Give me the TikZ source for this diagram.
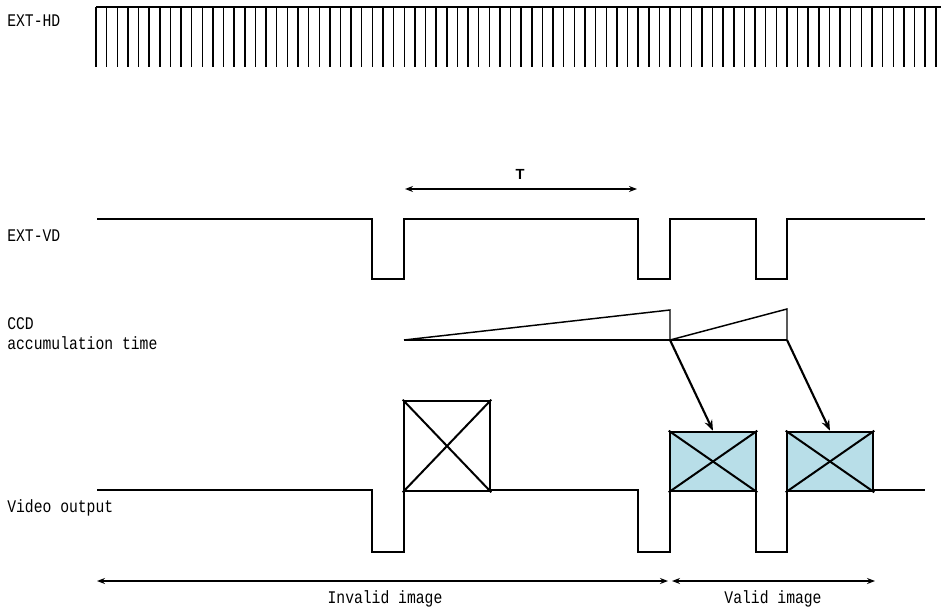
\documentclass[tikz,border=0pt]{standalone}
\usepackage{fontspec}
\newfontfamily\sigfont{Liberation Mono}[FakeStretch=0.83]
\newfontfamily\markfont{Liberation Sans}
\usetikzlibrary{arrows.meta}
\definecolor{framefill}{RGB}{184,222,232}
\tikzset{
  signal/.style={line width=1.1pt},
  siglabel/.style={anchor=base west,inner sep=0pt,font=\sigfont\fontsize{13.3}{16}\selectfont},
  spanlabel/.style={anchor=base,inner sep=0pt,font=\sigfont\fontsize{13.3}{16}\selectfont},
  framebox/.style={draw,line width=1.9pt,inner sep=0pt,minimum width=64.5pt},
  span/.style={line width=1pt,{Stealth[length=6pt,width=4.5pt]}-{Stealth[length=6pt,width=4.5pt]}},
  feed/.style={line width=1.6pt,-{Stealth[length=8pt,width=6pt]}}
}
\begin{document}
\begin{tikzpicture}[x=0.75pt,y=-0.75pt]
  \useasboundingbox (0,0) rectangle (941,606);
  % labels
  \node[siglabel] (hdlabel) at (7,27) {EXT-HD};
  \node[siglabel] (vdlabel) at (7,241) {EXT-VD};
  \node[siglabel] (ccdlabel) at (7,329) {CCD};
  \node[siglabel] (acclabel) at (7,349) {accumulation time};
  \node[siglabel] (vidlabel) at (7,512) {Video output};
  % EXT-HD
  \draw[signal] (96,7) -- (941,7);
  \foreach \k in {0,...,79}
    \draw[signal] ({96+\k*10.63},7) -- ({96+\k*10.63},67);
  % EXT-VD
  \draw[signal] (97,219) -- (372,219) -- (372,279) -- (404,279) -- (404,219)
    -- (638,219) -- (638,279) -- (670,279) -- (670,219)
    -- (756,219) -- (756,279) -- (787,279) -- (787,219) -- (925,219);
  % period T
  \coordinate (tL) at (405,189);
  \coordinate (tR) at (637,189);
  \draw[span] (tL) -- (tR);
  \node[inner sep=0pt,font=\markfont\bfseries\fontsize{11}{13}\selectfont] (tlabel) at (520,174) {T};
  % CCD accumulation
  \coordinate (rampA) at (670,340);
  \coordinate (rampB) at (787,340);
  \draw[signal] (404,340) -- (rampB);
  \draw[signal] (404,340) -- (670,310) -- (rampA);
  \draw[signal] (rampA) -- (787,309) -- (rampB);
  % video output
  \draw[signal] (97,490) -- (372,490) -- (372,552) -- (404,552) -- (404,490)
    -- (638,490) -- (638,552) -- (670,552) -- (670,490)
    -- (756,490) -- (756,552) -- (787,552) -- (787,490) -- (925,490);
  \node[framebox,fill=white,minimum height=67.5pt] (frameA) at (447,446) {};
  \node[framebox,fill=framefill,minimum height=44.25pt] (frameB) at (713,461.5) {};
  \node[framebox,fill=framefill,minimum height=44.25pt] (frameC) at (830,461.5) {};
  \foreach \f in {frameA,frameB,frameC} {
    \draw[signal,line width=1.5pt] (\f.north west) -- (\f.south east);
    \draw[signal,line width=1.5pt] (\f.south west) -- (\f.north east);
  }
  \draw[feed] (rampA) -- (frameB.north);
  \draw[feed] (rampB) -- (frameC.north);
  % image spans
  \coordinate (invL) at (97,581);
  \coordinate (invR) at (668,581);
  \coordinate (valL) at (672,581);
  \coordinate (valR) at (875,581);
  \draw[span] (invL) -- (invR);
  \draw[span] (valL) -- (valR);
  \node[spanlabel] (invlabel) at (385,603) {Invalid image};
  \node[spanlabel] (vallabel) at (773,603) {Valid image};
\end{tikzpicture}
\end{document}
